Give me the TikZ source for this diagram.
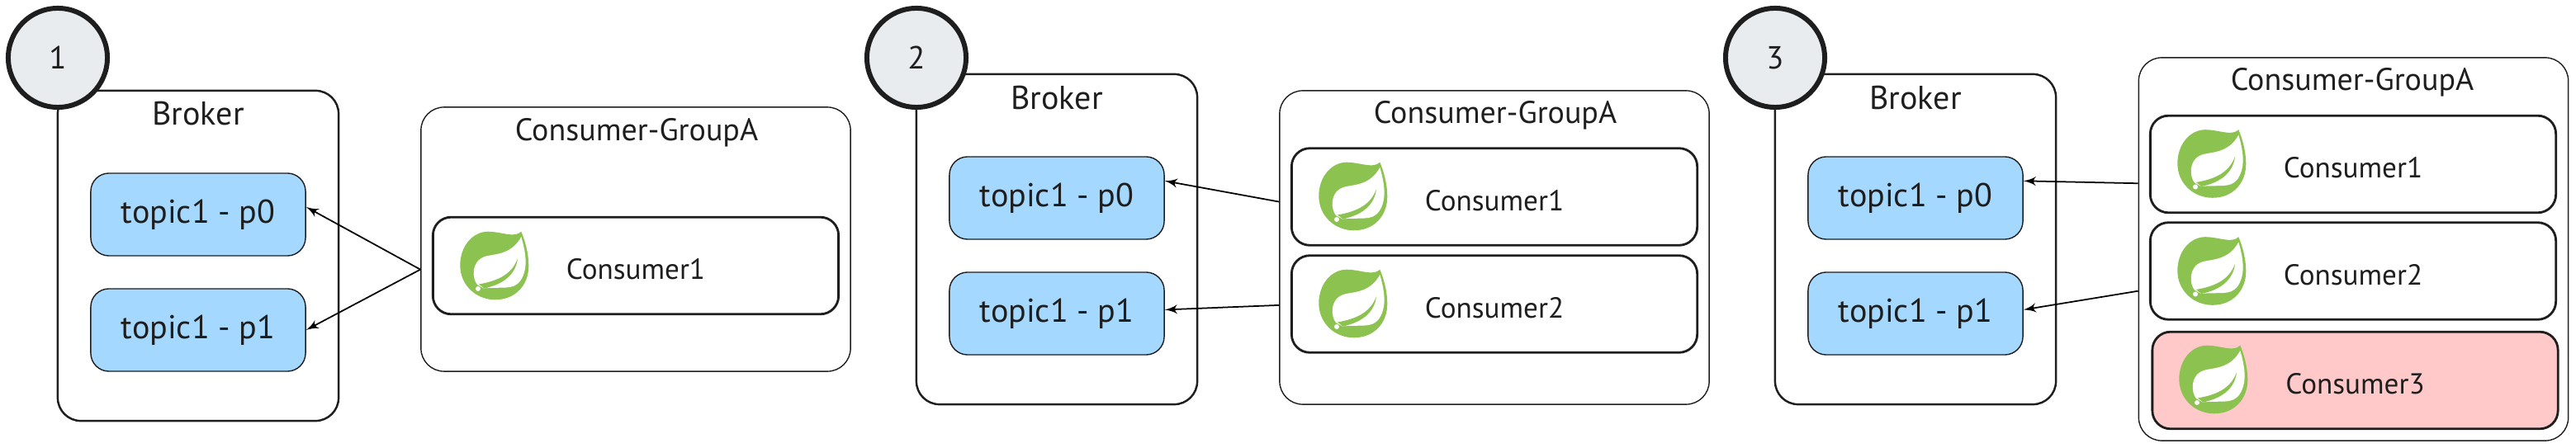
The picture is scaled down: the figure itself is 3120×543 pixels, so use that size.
\documentclass[tikz,border=0pt]{standalone}
\usepackage{fontspec}
\setmainfont{PT Sans}
\usepackage{xcolor}
\usetikzlibrary{arrows}
\definecolor{inkcol}{HTML}{1E1E1E}
\definecolor{topiccol}{HTML}{A5D8FF}
\definecolor{stepcol}{HTML}{E9ECEF}
\definecolor{leafcol}{HTML}{8CC350}
\definecolor{deadcol}{HTML}{FFC9C9}
\tikzset{pics/springleaf/.style={code={
  \fill[leafcol] (32.3,-41.3) .. controls (24,-33) and (8,-41.3) .. (-7.7,-41.3)
    .. controls (-27,-41.3) and (-41.7,-23) .. (-41.7,-0.5)
    .. controls (-41.7,24) and (-22,41.3) .. (0.7,41.3)
    .. controls (25,41.3) and (41.3,24) .. (41.3,0)
    .. controls (41.3,-15) and (37,-30) .. (32.3,-41.3) -- cycle;
  \fill[white] (-21,23) .. controls (-27,16) and (-29,-5) .. (-12,-11)
    .. controls (-2,-14.5) and (20,-12) .. (32.3,-35)
    .. controls (36,-22) and (40,-5) .. (36,8)
    .. controls (33,18) and (28,26) .. (14,26.5)
    .. controls (5,27) and (-5,26.5) .. (-13,27.5) -- cycle;
  \fill[leafcol] (-19,22.5) .. controls (0,19) and (20,13) .. (28,-8.7)
    .. controls (26,8) and (14,22) .. (-12.7,27.5) -- cycle;
  \fill[white] (-20,28) circle [radius=3];
}}}

\begin{document}
\begin{tikzpicture}[x=0.01cm,y=-0.01cm,->,>=latex',line width=0.5pt,
                    every node/.style={text=inkcol},
                    inner sep=0pt]
  \tikzstyle{brokerbox}=[draw=inkcol,line width=0.7pt,rounded corners=0.28cm,minimum width=3.4cm,minimum height=4cm]
  \tikzstyle{groupbox}=[draw=inkcol,line width=0.4pt,rounded corners=0.28cm,minimum width=5.2cm]
  \tikzstyle{topic}=[draw=inkcol,line width=0.4pt,fill=topiccol,rounded corners=0.22cm,minimum width=2.6cm,minimum height=1cm,font=\fontsize{11.4}{14}\selectfont]
  \tikzstyle{consumer}=[draw=inkcol,line width=0.8pt,rounded corners=0.22cm,minimum width=4.91cm,minimum height=1.175cm,text height=0.33cm,text depth=0pt,font=\fontsize{10}{12}\selectfont]
  \tikzstyle{stepmark}=[circle,draw=inkcol,line width=1.7pt,fill=stepcol,minimum size=1.2cm,font=\fontsize{11}{13}\selectfont]
  \tikzstyle{brokertitle}=[font=\fontsize{11.4}{14}\selectfont]
  \tikzstyle{grouptitle}=[font=\fontsize{10.8}{13}\selectfont]
  \useasboundingbox (0,0) rectangle (3120,543);

  % first
  \node[brokerbox] (brokerA) at (240,310) {};
  \node[brokertitle] (brokerAtitle) at (240,138) {Broker};
  \node[topic] (topicA0) at (240,260) {topic1 - p0};
  \node[topic] (topicA1) at (240,400) {topic1 - p1};
  \node[stepmark] (stepA) at (70,70) {1};
  \node[groupbox,minimum height=3.2cm] (groupA) at (770,290) {};
  \node[grouptitle] (groupAtitle) at (771,161) {Consumer-GroupA};
  \node[consumer] (consA1) at (770,322) {Consumer1};
  \pic (leafA1) at (599,322) {springleaf};

  \path (groupA.188.3) edge (topicA0.4.4)
        (groupA.188.3) edge (topicA1.east);

  % second
  \node[brokerbox] (brokerB) at (1280,290) {};
  \node[brokertitle] (brokerBtitle) at (1280,119) {Broker};
  \node[topic] (topicB0) at (1280,240) {topic1 - p0};
  \node[topic] (topicB1) at (1280,380) {topic1 - p1};
  \node[stepmark] (stepB) at (1110,70) {2};
  \node[groupbox,minimum height=3.8cm] (groupB) at (1810,300) {};
  \node[grouptitle] (groupBtitle) at (1811,140) {Consumer-GroupA};
  \node[consumer] (consB1) at (1810,238.5) {Consumer1};
  \node[consumer] (consB2) at (1810,368.5) {Consumer2};
  \pic (leafB1) at (1639,238) {springleaf};
  \pic (leafB2) at (1639,368) {springleaf};

  \path (groupB.168.9) edge (topicB0.9.6)
        (groupB.195.1) edge (topicB1.2.2);

  % third
  \node[brokerbox] (brokerC) at (2320,290) {};
  \node[brokertitle] (brokerCtitle) at (2320,119) {Broker};
  \node[topic] (topicC0) at (2320,240) {topic1 - p0};
  \node[topic] (topicC1) at (2320,380) {topic1 - p1};
  \node[stepmark] (stepC) at (2150,70) {3};
  \node[groupbox,minimum height=4.64cm] (groupC) at (2850.5,302) {};
  \node[grouptitle] (groupCtitle) at (2849,100) {Consumer-GroupA};
  \node[consumer] (consC1) at (2850,199) {Consumer1};
  \node[consumer] (consC2) at (2850,328.5) {Consumer2};
  \node[consumer,fill=deadcol] (consC3) at (2852.5,461) {Consumer3};
  \pic (leafC1) at (2679,198.5) {springleaf};
  \pic (leafC2) at (2679,328.5) {springleaf};
  \pic (leafC3) at (2681,460) {springleaf};

  \path (groupC.163.9) edge (topicC0.9.6)
        (groupC.191.3) edge (topicC1.2.6);
\end{tikzpicture}
\end{document}
